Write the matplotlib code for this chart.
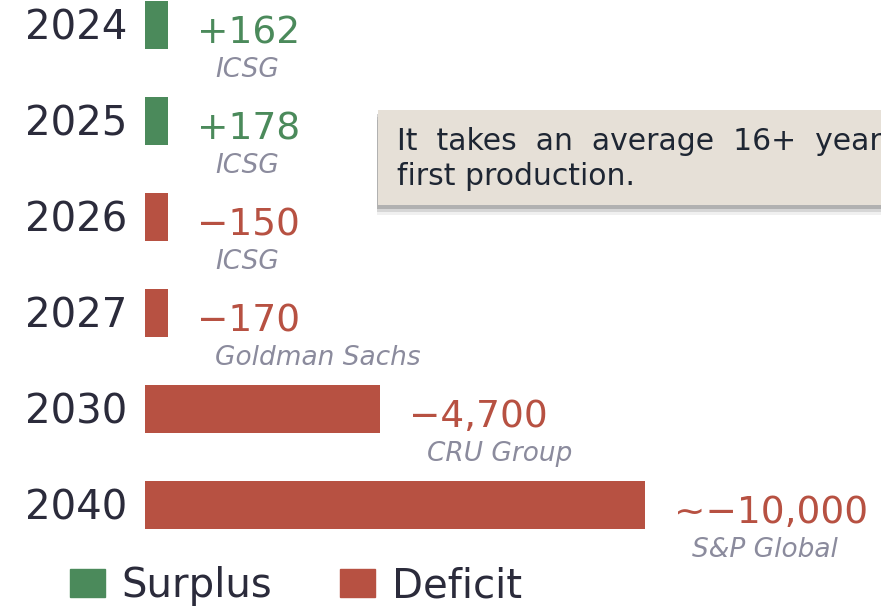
import matplotlib
matplotlib.use("Agg")
import matplotlib.pyplot as plt
import matplotlib.patches as mpatches
import matplotlib.patheffects as pe
from matplotlib.transforms import blended_transform_factory

# データ
years = ["2024", "2025", "2026", "2027", "2030", "2040"]
balance = [162, 178, -150, -170, -4700, -10000]
value_labels = ["+162", "+178", "\u2212150", "\u2212170", "\u22124,700", "~\u221210,000"]
sources = ["ICSG", "ICSG", "ICSG", "Goldman Sachs", "CRU Group", "S&P Global"]

GREEN = "#4b8a5b"
RED = "#b75142"
DARK = "#2b2b3b"
GREY = "#8b8b9d"

W, H = 881, 608
fig = plt.figure(figsize=(W / 100, H / 100), dpi=100)
fig.patch.set_facecolor("white")

# 棒グラフの領域（0 が x=145px、10000 が 500px 分）
ax = fig.add_axes([145 / W, 0, 1 - 145 / W, 1])
ax.set_xlim(0, (W - 145) / 500 * 10000)
ax.set_ylim((H - 25) / 96, -25 / 96)
ax.axis("off")

min_len = 460  # 小さい値でも見えるように最低幅をつける
pos = list(range(len(years)))
lengths = [max(abs(v), min_len) for v in balance]
colors = [GREEN if v > 0 else RED for v in balance]
ax.barh(pos, lengths, height=0.49, color=colors, left=0)

year_tr = blended_transform_factory(fig.transFigure, ax.transData)
for i, (yr, ln, lab, src, c) in enumerate(zip(years, lengths, value_labels, sources, colors)):
    ax.annotate(yr, (25 / W, i), xycoords=year_tr, xytext=(0, -3), textcoords="offset pixels",
                fontsize=29, color=DARK, ha="left", va="center")
    ax.annotate(lab, (ln, i), xytext=(29, -8), textcoords="offset pixels",
                fontsize=27, color=c, ha="left", va="center")
    ax.annotate(src, (ln, i), xytext=(47, -45), textcoords="offset pixels",
                fontsize=19, color=GREY, style="italic", ha="left", va="center")

# 吹き出しボックス（影はぼかし風に重ねる）
shadow = [pe.withSimplePatchShadow(offset=(-1, -d), shadow_rgbFace="#444444", alpha=a)
          for d, a in [(7, 0.08), (5, 0.15), (3, 0.25)]]
box = mpatches.Rectangle((378 / W, 1 - 205 / H), 600 / W, 95 / H,
                         transform=fig.transFigure, facecolor="#e6e0d7",
                         edgecolor="none", zorder=5, path_effects=shadow + [pe.Normal()])
fig.patches.append(box)
fig.text(397 / W, 1 - 159 / H,
         "It  takes  an  average  16+  years  from  discovery  to\nfirst production.",
         fontsize=21.5, color="#1e2633", ha="left", va="center",
         linespacing=1.25, zorder=6)

# 凡例
handles = [mpatches.Patch(color=GREEN, label="Surplus"),
           mpatches.Patch(color=RED, label="Deficit")]
fig.legend(handles=handles, loc="center left", bbox_to_anchor=(70 / W, 1 - 586 / H),
           ncol=2, frameon=False, fontsize=29, labelcolor=DARK,
           handlelength=0.87, handleheight=0.68, handletextpad=0.4,
           columnspacing=1.7, borderpad=0, borderaxespad=0)

fig.savefig("out.png", dpi=100)
